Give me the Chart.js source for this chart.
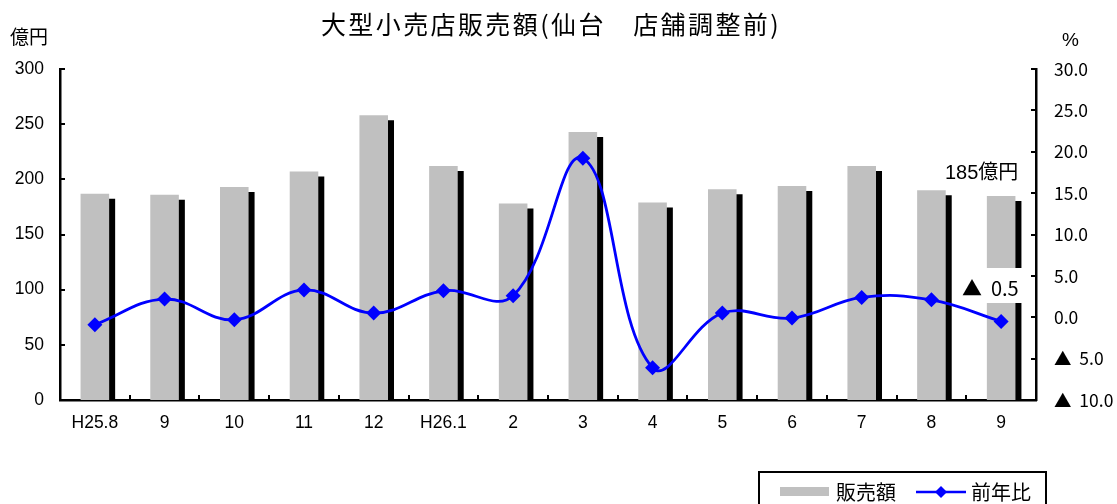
<!DOCTYPE html>
<html lang="ja">
<head>
<meta charset="utf-8">
<title>大型小売店販売額</title>
<script src="https://cdn.jsdelivr.net/npm/chart.js"></script>
<style>
  html, body { margin: 0; padding: 0; background: #fff; }
  #wrap { width: 1117px; height: 504px; }
</style>
</head>
<body>
<div id="wrap"><canvas id="uriage"></canvas></div>
<script>
// data
const months = ['H25.8', '9', '10', '11', '12', 'H26.1', '2', '3', '4', '5', '6', '7', '8', '9'];
const sales = [187, 186, 193, 207, 258, 212, 178, 243, 179, 191, 194, 212, 190, 185];
const yoy = [-0.9, 2.2, -0.3, 3.3, 0.5, 3.2, 2.6, 19.2, -6.1, 0.5, -0.1, 2.4, 2.1, -0.5];

const JP = '"Noto Sans CJK JP", sans-serif';
const NUM = '"Liberation Sans", "Noto Sans CJK JP", sans-serif';

// minus values are written with a triangle
const fmtPct = v => (v < 0 ? '▲  ' : '') + Math.abs(v).toFixed(1);

// black drop shadow behind the grey bars
const barShadow = {
    id: 'barShadow',
    beforeDatasetDraw(chart, args) {
        if (args.index !== 0) return;
        const ctx = chart.ctx;
        ctx.save();
        ctx.shadowColor = '#000';
        ctx.shadowOffsetX = 6;
        ctx.shadowOffsetY = 5;
        ctx.shadowBlur = 0;
    },
    afterDatasetDraw(chart, args) {
        if (args.index !== 0) return;
        chart.ctx.restore();
    }
};

// inner tick marks, texts, legend box
const extras = {
    id: 'extras',
    afterDatasetsDraw(chart) {
        const ctx = chart.ctx;
        const x = chart.scales.x, y1 = chart.scales.y1, y2 = chart.scales.y2;
        const area = chart.chartArea;
        ctx.save();
        ctx.strokeStyle = '#000';
        ctx.lineWidth = 2;
        y1.ticks.forEach(t => {
            const py = Math.round(y1.getPixelForValue(t.value));
            ctx.beginPath(); ctx.moveTo(area.left, py); ctx.lineTo(area.left + 5, py); ctx.stroke();
        });
        y2.ticks.forEach(t => {
            const py = Math.round(y2.getPixelForValue(t.value));
            ctx.beginPath(); ctx.moveTo(area.right, py); ctx.lineTo(area.right - 5, py); ctx.stroke();
        });
        for (let k = 1; k < months.length; k++) {
            const px = Math.round((x.getPixelForValue(k - 1) + x.getPixelForValue(k)) / 2);
            ctx.beginPath(); ctx.moveTo(px, area.bottom); ctx.lineTo(px, area.bottom - 5); ctx.stroke();
        }

        // annotations for the latest month
        ctx.fillStyle = '#fff';
        ctx.fillRect(958, 268, 64, 35);
        ctx.fillStyle = '#000';
        ctx.textBaseline = 'middle';
        ctx.textAlign = 'left';
        ctx.font = '20px ' + NUM;
        ctx.fillText(sales[sales.length - 1] + '億円', 945, 173);
        ctx.font = '20px ' + JP;
        ctx.fillText(fmtPct(yoy[yoy.length - 1]), 962, 288);
        ctx.restore();
    },
    afterDraw(chart) {
        const ctx = chart.ctx;
        ctx.save();
        ctx.fillStyle = '#000';
        ctx.textBaseline = 'middle';

        // title
        ctx.font = '25px ' + JP;
        ctx.textAlign = 'center';
        ctx.letterSpacing = '2.4px';
        ctx.fillText('大型小売店販売額(仙台　店舗調整前)', 551, 24);
        ctx.letterSpacing = '0px';

        // unit labels
        ctx.textAlign = 'left';
        ctx.font = '19px ' + JP;
        ctx.fillText('億円', 10, 37);
        ctx.font = '19px ' + NUM;
        ctx.fillText('%', 1062, 41);

        // legend
        const ds = chart.data.datasets;
        ctx.strokeStyle = '#000';
        ctx.lineWidth = 2;
        ctx.strokeRect(759, 472, 287, 45);
        ctx.fillStyle = ds[0].backgroundColor;
        ctx.fillRect(780, 487, 49, 9);
        ctx.strokeStyle = ds[1].borderColor;
        ctx.lineWidth = 2.5;
        ctx.beginPath(); ctx.moveTo(916, 492); ctx.lineTo(966, 492); ctx.stroke();
        ctx.fillStyle = ds[1].borderColor;
        ctx.beginPath();
        ctx.moveTo(941, 486); ctx.lineTo(947, 492); ctx.lineTo(941, 498); ctx.lineTo(935, 492);
        ctx.closePath(); ctx.fill();
        ctx.fillStyle = '#000';
        ctx.font = '20px ' + JP;
        ctx.fillText(ds[0].label, 836, 492);
        ctx.fillText(ds[1].label, 971, 492);
        ctx.restore();
    }
};

new Chart('uriage', {
    type: 'bar',
    data: {
        labels: months,
        datasets: [
            {
                label: '販売額',
                data: sales,
                yAxisID: 'y1',
                backgroundColor: '#C0C0C0',
                barPercentage: 0.41,
                categoryPercentage: 1,
                order: 2,
                clip: { left: 10, top: 10, right: 10, bottom: 1 }
            },
            {
                type: 'line',
                label: '前年比',
                data: yoy,
                yAxisID: 'y2',
                borderColor: '#0000FF',
                backgroundColor: '#0000FF',
                borderWidth: 2.8,
                tension: 0.4,
                pointStyle: 'rectRot',
                pointRadius: 7.5,
                pointBorderWidth: 0,
                pointBackgroundColor: '#0000FF',
                order: 1
            }
        ]
    },
    options: {
        responsive: true,
        maintainAspectRatio: false,
        animation: false,
        layout: { padding: { top: 69, left: 0, right: 0, bottom: 0 } },
        plugins: {
            legend: { display: false },
            tooltip: { enabled: false }
        },
        scales: {
            x: {
                grid: { display: false, drawTicks: false },
                border: { display: true, color: '#000', width: 2.5 },
                ticks: { color: '#000', font: { family: NUM, size: 17.5 }, padding: 13, maxRotation: 0, autoSkip: false },
                afterFit: s => { s.height = 104; }
            },
            y1: {
                position: 'left',
                min: 0,
                max: 300,
                grid: { display: false, drawTicks: false },
                border: { display: true, color: '#000', width: 2.5 },
                ticks: { stepSize: 50, color: '#000', font: { family: NUM, size: 17.5 }, padding: 16 },
                afterFit: s => { s.width = 60; }
            },
            y2: {
                position: 'right',
                min: -10,
                max: 30,
                grid: { display: false, drawTicks: false },
                border: { display: true, color: '#000', width: 2.5 },
                ticks: {
                    stepSize: 5,
                    color: '#000',
                    font: { family: JP, size: 17.5 },
                    padding: 18,
                    callback: fmtPct
                },
                afterFit: s => { s.width = 81; }
            }
        }
    },
    plugins: [barShadow, extras]
});
</script>
</body>
</html>
